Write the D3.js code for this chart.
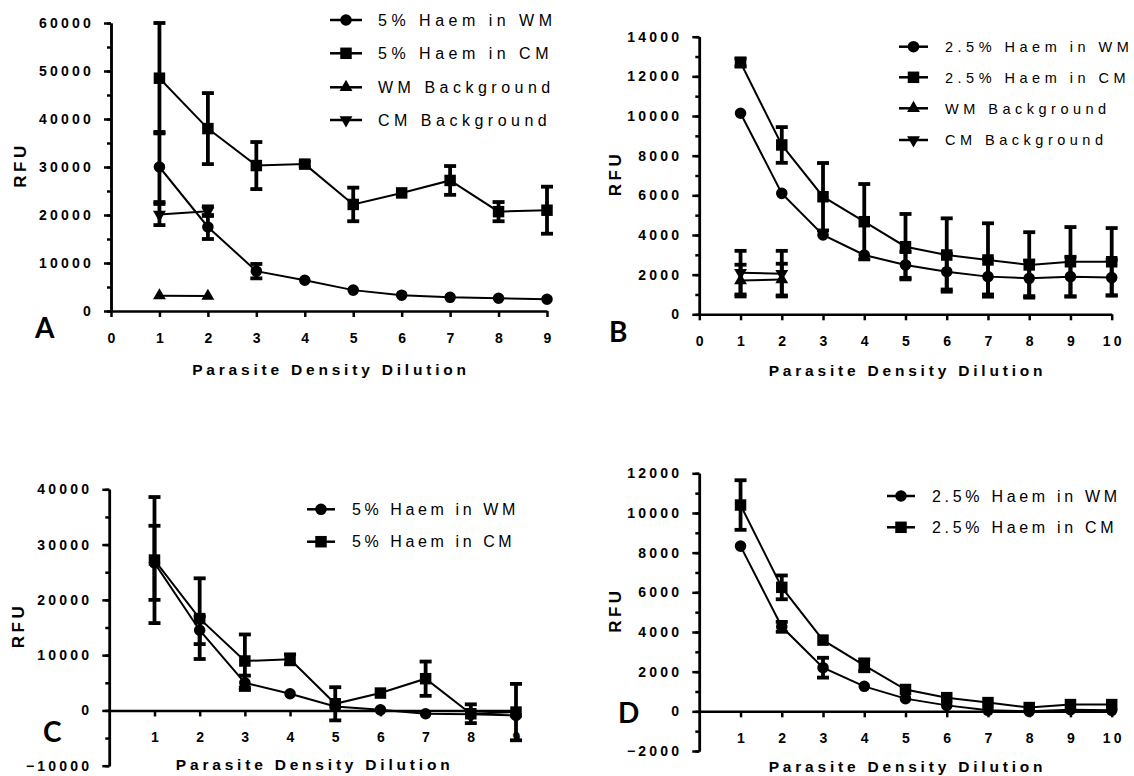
<!DOCTYPE html>
<html>
<head>
<meta charset="UTF-8" />
<title>RFU vs Parasite Density Dilution</title>
<script src="https://d3js.org/d3.v7.min.js"></script>
<style>
  body { margin: 0; background: #fff; }
  svg { display: block; font-family: 'Liberation Sans', Arial, sans-serif; }
</style>
</head>
<body>
<div id="main"></div>
<script>
// dilution steps
var dil9 = [1, 2, 3, 4, 5, 6, 7, 8, 9];
var dil10 = [1, 2, 3, 4, 5, 6, 7, 8, 9, 10];
var dilBg = [1, 2];

// panel A - 5% haem
var aWM = [30000, 17500, 8300, 6400, 4350, 3300, 2850, 2650, 2450];
var aWMerr = [7300, 2500, 1500, 0, 0, 0, 0, 0, 0];
var aCM = [48500, 38000, 30300, 30600, 22200, 24600, 27200, 20700, 21000];
var aCMerr = [11500, 7400, 4900, 500, 3500, 0, 3000, 2000, 4900];
var aWMbg = [3200, 3100];
var aWMbgErr = [0, 0];
var aCMbg = [20100, 20800];
var aCMbgErr = [2200, 1000];

// panel B - 2.5% haem
var bWM = [10140, 6100, 4000, 2990, 2490, 2150, 1900, 1815, 1900, 1850];
var bWMerr = [0, 0, 0, 0, 650, 900, 900, 900, 1000, 900];
var bCM = [12700, 8540, 5930, 4670, 3410, 2990, 2740, 2490, 2650, 2650];
var bCMerr = [200, 900, 1700, 1900, 1650, 1850, 1850, 1650, 1750, 1700];
var bWMbg = [1700, 1750];
var bWMbgErr = [800, 800];
var bCMbg = [2100, 2050];
var bCMbgErr = [1100, 1150];

// panel C - 5% haem, background subtracted
var cWM = [26700, 14500, 5000, 3020, 700, 100, -600, -700, -900];
var cWMerr = [6700, 2500, 1300, 0, 0, 0, 0, 0, 0];
var cCM = [27200, 16600, 8940, 9240, 1200, 3140, 5740, -600, -300];
var cCMerr = [11400, 7300, 4800, 900, 3000, 0, 3100, 1700, 5100];

// panel D - 2.5% haem, background subtracted
var dWM = [8330, 4260, 2200, 1260, 640, 300, 50, 0, 80, 50];
var dWMerr = [0, 250, 500, 0, 0, 0, 0, 0, 0, 0];
var dCM = [10400, 6250, 3590, 2320, 1100, 690, 440, 190, 340, 340];
var dCMerr = [1250, 600, 0, 300, 0, 0, 0, 0, 0, 0];

var svg = d3.select('#main').append('svg')
  .attr('width', 1134)
  .attr('height', 776);

var symbols = {
  circle: d3.symbol().type(d3.symbolCircle).size(105),
  square: d3.symbol().type(d3.symbolSquare).size(132),
  up: d3.symbol().type(d3.symbolTriangle).size(72),
  down: d3.symbol().type(d3.symbolTriangle).size(72)
};

function marker(sel, kind, px, py) {
  sel.append('path')
    .attr('d', symbols[kind]())
    .attr('transform', 'translate(' + px + ',' + py + ')' + (kind == 'down' ? ' rotate(180)' : ''))
    .attr('fill', '#000');
}

function drawPanel(p) {
  var g = svg.append('g');
  var x = d3.scaleLinear().domain(p.xDomain).range([p.left, p.right]);
  var y = d3.scaleLinear().domain(p.yDomain).range([p.bottom, p.top]);

  // minor y ticks
  g.append('g')
    .attr('transform', 'translate(' + p.left + ',0)')
    .call(d3.axisLeft(y).tickValues(d3.range(p.yDomain[0], p.yDomain[1] + 1, p.yMinor))
      .tickSize(4).tickSizeOuter(0).tickFormat(''))
    .call(styleAxis);
  // major y ticks
  g.append('g')
    .attr('transform', 'translate(' + p.left + ',0)')
    .call(d3.axisLeft(y).tickValues(d3.range(p.yDomain[0], p.yDomain[1] + 1, p.yMajor))
      .tickSize(7).tickPadding(10).tickSizeOuter(0).tickFormat(d3.format('d')))
    .call(styleAxis);

  // x axis sits on y = 0
  var xa = g.append('g')
    .attr('transform', 'translate(0,' + y(0) + ')')
    .call(d3.axisBottom(x).tickValues(p.xTicks).tickSize(6).tickPadding(16).tickSizeOuter(0)
      .tickFormat(d3.format('d')))
    .call(styleAxis);
  xa.selectAll('text').attr('x', 1.5);

  // axis titles
  g.append('text')
    .attr('x', (p.left + p.right) / 2 + 2)
    .attr('y', p.titleY)
    .attr('text-anchor', 'middle')
    .attr('font-weight', 'bold')
    .attr('font-size', 15.5)
    .attr('letter-spacing', 3.8)
    .text('Parasite Density Dilution');

  g.append('text')
    .attr('transform', 'translate(' + p.rfuX + ',' + ((p.top + p.bottom) / 2) + ') rotate(-90)')
    .attr('text-anchor', 'middle')
    .attr('font-weight', 'bold')
    .attr('font-size', 17)
    .attr('letter-spacing', 3.5)
    .attr('dx', 2)
    .text('RFU');

  // panel letter
  g.append('text')
    .attr('x', p.letter[1])
    .attr('y', p.letter[2])
    .attr('font-family', 'Lato, "Open Sans", sans-serif')
    .attr('font-weight', 'bold')
    .attr('font-size', 28)
    .text(p.letter[0]);

  var line = d3.line()
    .x(function(d) { return x(d[0]); })
    .y(function(d) { return y(d[1]); });

  p.series.forEach(function(s) {
    var pts = s.x.map(function(v, i) { return [v, s.y[i], s.err[i]]; });
    // error bars
    var eb = g.append('g').attr('stroke', '#000').attr('stroke-width', 3.8);
    pts.forEach(function(d) {
      if (!d[2]) return;
      var cx = x(d[0]), y1 = y(d[1] + d[2]), y2 = y(d[1] - d[2]);
      eb.append('line').attr('x1', cx).attr('x2', cx).attr('y1', y1).attr('y2', y2);
      eb.append('line').attr('x1', cx - 6).attr('x2', cx + 6).attr('y1', y1).attr('y2', y1);
      eb.append('line').attr('x1', cx - 6).attr('x2', cx + 6).attr('y1', y2).attr('y2', y2);
    });
    g.append('path')
      .datum(pts)
      .attr('d', line)
      .attr('fill', 'none')
      .attr('stroke', '#000')
      .attr('stroke-width', 2);
    pts.forEach(function(d) { marker(g, s.symbol, x(d[0]), y(d[1])); });
  });

  // legend
  var lg = p.legend;
  p.series.forEach(function(s, i) {
    var ly = lg.y[i];
    g.append('line')
      .attr('x1', lg.x1).attr('x2', lg.x2)
      .attr('y1', ly).attr('y2', ly)
      .attr('stroke', '#000').attr('stroke-width', 2.5);
    marker(g, s.symbol, (lg.x1 + lg.x2) / 2, ly);
    g.append('text')
      .attr('x', lg.tx)
      .attr('y', ly + lg.fs * 0.36)
      .attr('font-size', lg.fs)
      .attr('letter-spacing', lg.ls)
      .text(s.name);
  });
}

function styleAxis(sel) {
  sel.select('.domain').attr('stroke', '#000').attr('stroke-width', 2.5);
  sel.selectAll('.tick line').attr('stroke', '#000').attr('stroke-width', 2.5);
  sel.selectAll('.tick text')
    .attr('fill', '#000')
    .attr('font-family', "'Liberation Sans', Arial, sans-serif")
    .attr('font-weight', 'bold')
    .attr('font-size', 14)
    .attr('letter-spacing', 3.2);
}

drawPanel({
  left: 111, right: 547, top: 23, bottom: 311,
  xDomain: [0, 9], yDomain: [0, 60000], yMajor: 10000, yMinor: 5000,
  xTicks: [0, 1, 2, 3, 4, 5, 6, 7, 8, 9],
  titleY: 375, rfuX: 26, letter: ['A', 35, 338],
  legend: { x1: 330, x2: 362, tx: 378, y: [20, 53.3, 87.3, 120], fs: 16, ls: 4.5 },
  series: [
    { name: '5% Haem in WM', x: dil9, y: aWM, err: aWMerr, symbol: 'circle' },
    { name: '5% Haem in CM', x: dil9, y: aCM, err: aCMerr, symbol: 'square' },
    { name: 'WM Background', x: dilBg, y: aWMbg, err: aWMbgErr, symbol: 'up' },
    { name: 'CM Background', x: dilBg, y: aCMbg, err: aCMbgErr, symbol: 'down' }
  ]
});

drawPanel({
  left: 699.3, right: 1111.7, top: 36.7, bottom: 314.3,
  xDomain: [0, 10], yDomain: [0, 14000], yMajor: 2000, yMinor: 1000,
  xTicks: [0, 1, 2, 3, 4, 5, 6, 7, 8, 9, 10],
  titleY: 376, rfuX: 621, letter: ['B', 609, 342],
  legend: { x1: 899, x2: 928, tx: 945, y: [46.7, 77.3, 108.3, 140], fs: 14.5, ls: 4.5 },
  series: [
    { name: '2.5% Haem in WM', x: dil10, y: bWM, err: bWMerr, symbol: 'circle' },
    { name: '2.5% Haem in CM', x: dil10, y: bCM, err: bCMerr, symbol: 'square' },
    { name: 'WM Background', x: dilBg, y: bWMbg, err: bWMbgErr, symbol: 'up' },
    { name: 'CM Background', x: dilBg, y: bCMbg, err: bCMbgErr, symbol: 'down' }
  ]
});

drawPanel({
  left: 109.3, right: 516, top: 489.3, bottom: 765.7,
  xDomain: [0, 9], yDomain: [-10000, 40000], yMajor: 10000, yMinor: 5000,
  xTicks: [1, 2, 3, 4, 5, 6, 7, 8, 9],
  titleY: 770, rfuX: 24, letter: ['C', 43, 742],
  legend: { x1: 307, x2: 335, tx: 352, y: [509.3, 541.7], fs: 16, ls: 3.6 },
  series: [
    { name: '5% Haem in WM', x: dil9, y: cWM, err: cWMerr, symbol: 'circle' },
    { name: '5% Haem in CM', x: dil9, y: cCM, err: cCMerr, symbol: 'square' }
  ]
});

drawPanel({
  left: 699.3, right: 1111.7, top: 473.3, bottom: 751,
  xDomain: [0, 10], yDomain: [-2000, 12000], yMajor: 2000, yMinor: 1000,
  xTicks: [1, 2, 3, 4, 5, 6, 7, 8, 9, 10],
  titleY: 772, rfuX: 621, letter: ['D', 618, 723],
  legend: { x1: 887, x2: 915, tx: 932, y: [496, 527.3], fs: 16, ls: 3.7 },
  series: [
    { name: '2.5% Haem in WM', x: dil10, y: dWM, err: dWMerr, symbol: 'circle' },
    { name: '2.5% Haem in CM', x: dil10, y: dCM, err: dCMerr, symbol: 'square' }
  ]
});
</script>
</body>
</html>
